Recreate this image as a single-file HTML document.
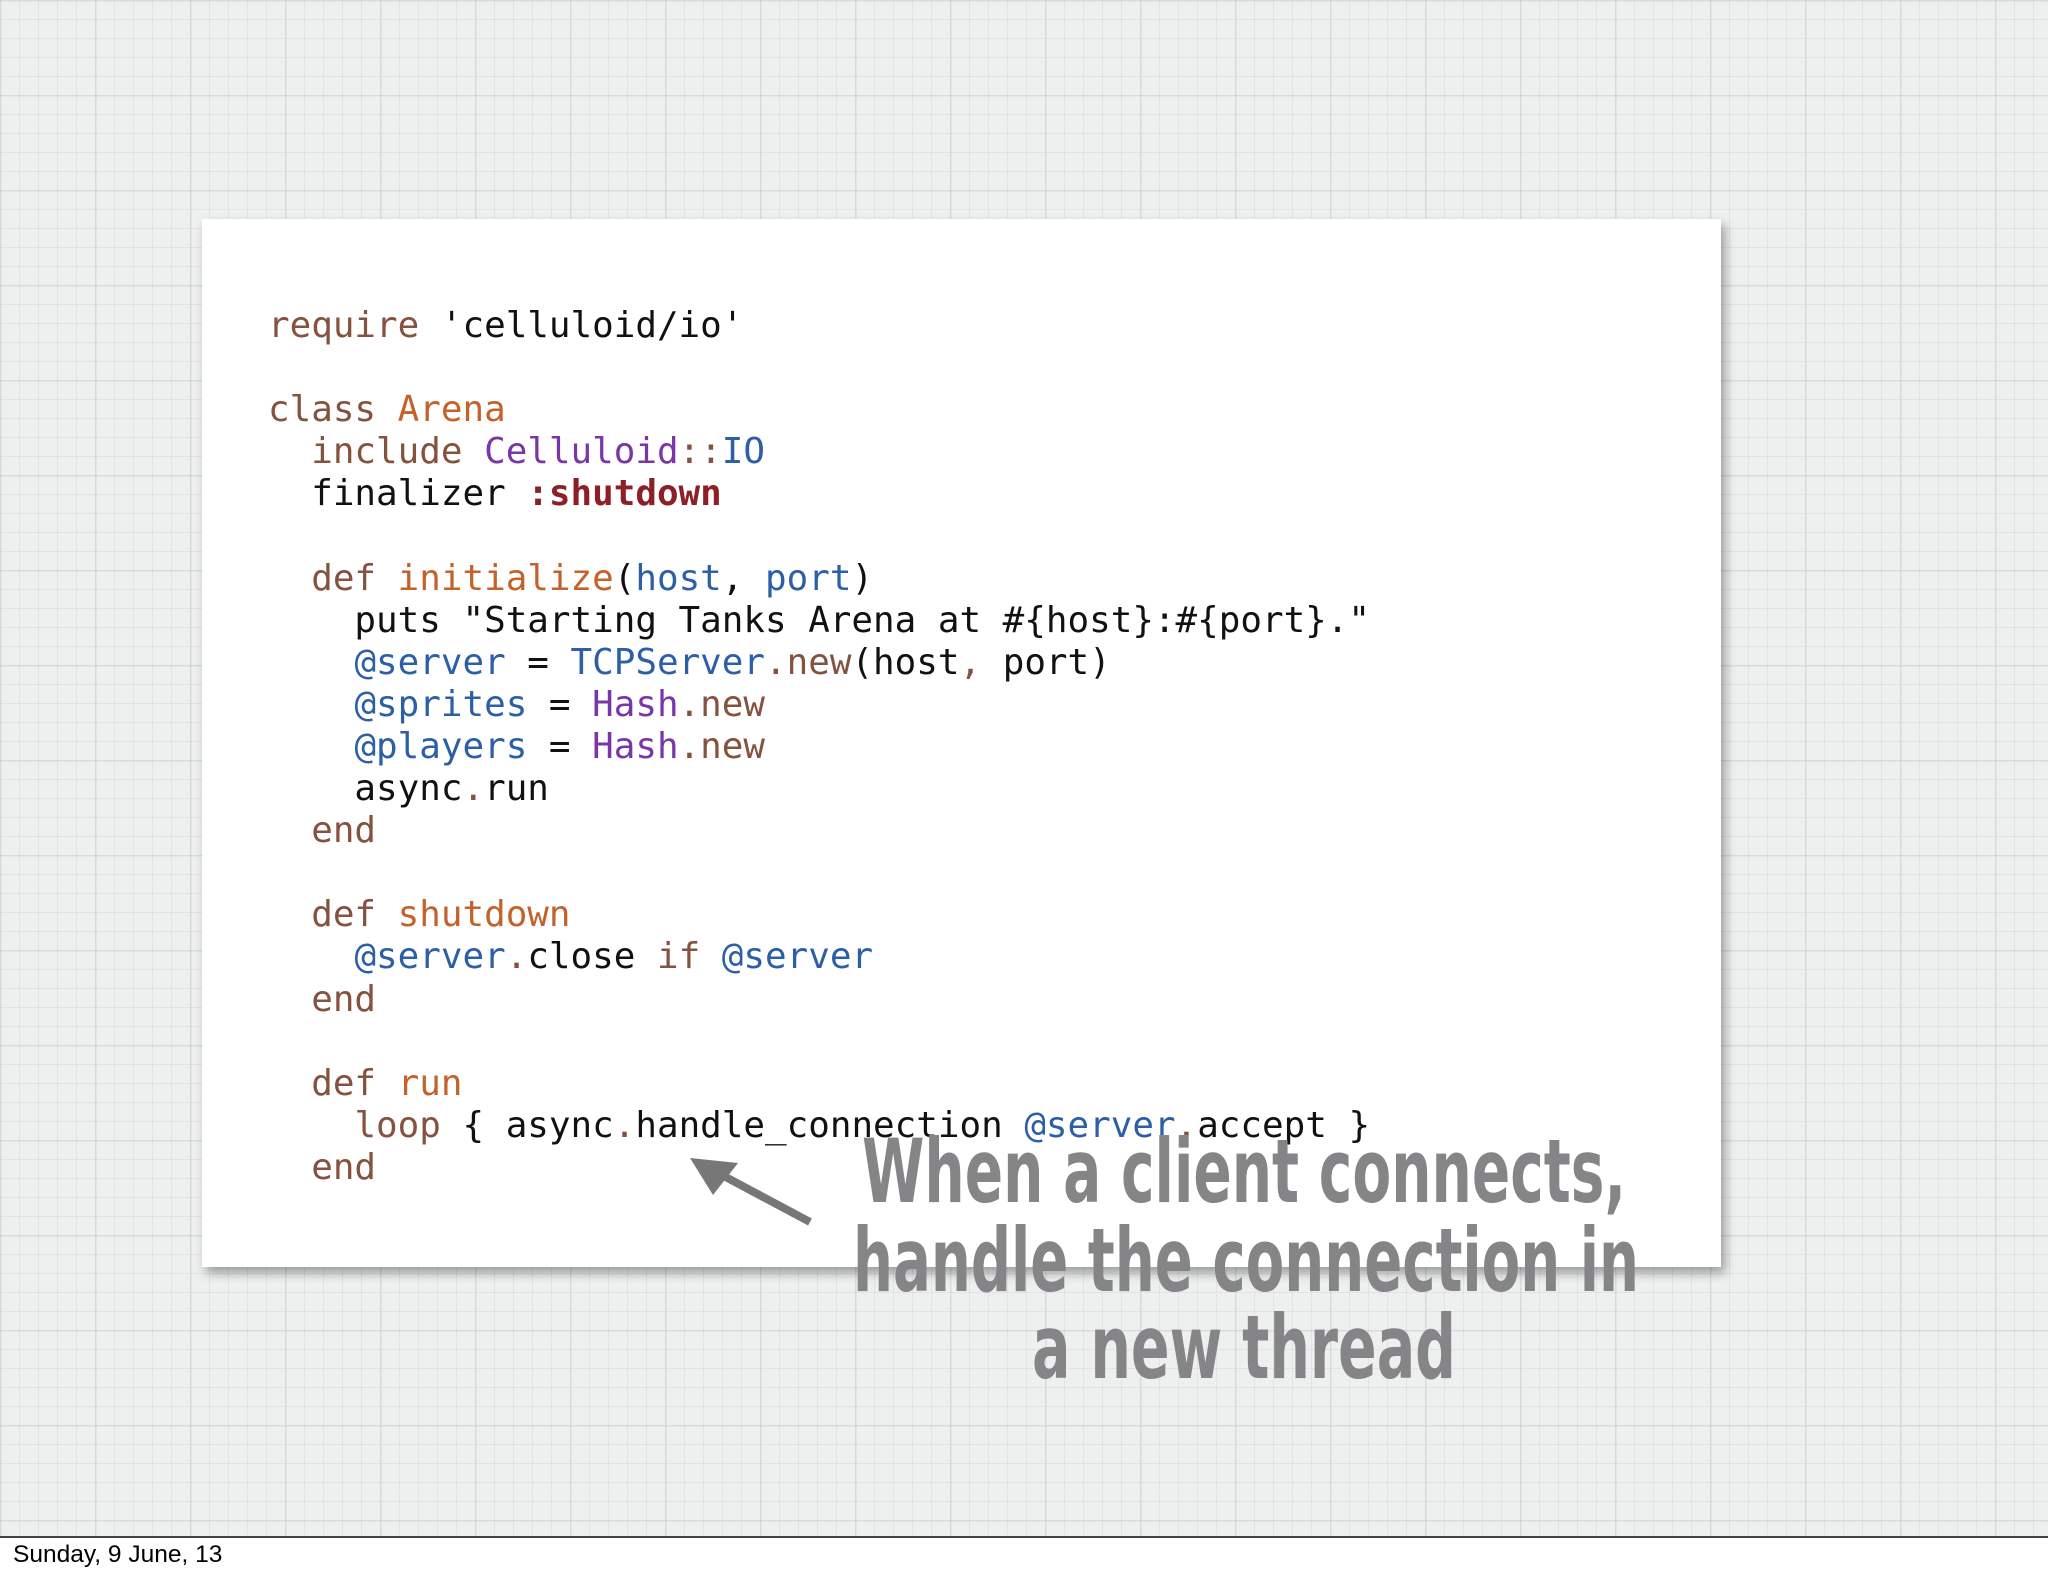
<!DOCTYPE html>
<html><head><meta charset="utf-8"><style>
html,body{margin:0;padding:0}
body{width:2048px;height:1576px;position:relative;overflow:hidden;background:#fff;font-family:"Liberation Sans",sans-serif}
#bg{position:absolute;left:0;top:0;width:2048px;height:1536px;background-color:#eef0f0;
background-image:
linear-gradient(to right,rgba(170,185,185,.22) 1px,transparent 1px),
linear-gradient(to bottom,rgba(170,185,185,.22) 1px,transparent 1px),
linear-gradient(to right,rgba(160,175,175,.15) 2px,transparent 2px),
linear-gradient(to bottom,rgba(160,175,175,.15) 2px,transparent 2px);
background-size:19px 19px,19px 19px,95px 95px,95px 95px;border-bottom:2px solid #444}
#card{position:absolute;left:202px;top:219px;width:1519px;height:1048px;background:#fff;box-shadow:4px 6px 10px rgba(0,0,0,.35)}
pre{position:absolute;left:268px;top:305px;margin:0;font-family:"DejaVu Sans Mono",monospace;font-size:35.9px;line-height:42.1px;color:#111}
.k{color:#85523f}.o{color:#c4622c}.p{color:#7a35a8}.b{color:#2d5fa6}.r{color:#8d1f27;font-weight:bold}
#foot{position:absolute;left:13px;top:1541px;font-size:24.5px;color:#000}
svg{position:absolute;left:0;top:0}
</style></head><body>
<div id="bg"></div>
<div id="card"></div>
<pre><span class="k">require</span> 'celluloid/io'

<span class="k">class</span> <span class="o">Arena</span>
  <span class="k">include</span> <span class="p">Celluloid</span><span class="k">::</span><span class="b">IO</span>
  finalizer <span class="r">:shutdown</span>

  <span class="k">def</span> <span class="o">initialize</span>(<span class="b">host</span>, <span class="b">port</span>)
    puts "Starting Tanks Arena at #{host}:#{port}."
    <span class="b">@server</span> = <span class="b">TCPServer</span><span class="k">.new</span>(host<span class="k">,</span> port)
    <span class="b">@sprites</span> = <span class="p">Hash</span><span class="k">.new</span>
    <span class="b">@players</span> = <span class="p">Hash</span><span class="k">.new</span>
    async<span class="k">.</span>run
  <span class="k">end</span>

  <span class="k">def</span> <span class="o">shutdown</span>
    <span class="b">@server</span><span class="k">.</span>close <span class="k">if</span> <span class="b">@server</span>
  <span class="k">end</span>

  <span class="k">def</span> <span class="o">run</span>
    <span class="k">loop</span> { async<span class="k">.</span>handle_connection <span class="b">@server</span><span class="k">.</span>accept }
  <span class="k">end</span></pre>
<svg width="2048" height="1576" viewBox="0 0 2048 1576">
<g fill="#858587" font-family="DejaVu Sans" font-weight="bold" font-size="88">
<text x="862" y="1202" textLength="764" lengthAdjust="spacingAndGlyphs">When a client connects,</text>
<text x="853" y="1291" textLength="786" lengthAdjust="spacingAndGlyphs">handle the connection in</text>
<text x="1032" y="1378" textLength="424" lengthAdjust="spacingAndGlyphs">a new thread</text>
</g>
<line x1="810" y1="1222" x2="720" y2="1174" stroke="#777" stroke-width="8"/>
<polygon points="690,1158 738,1163 713,1195" fill="#777"/>
</svg>
<div id="foot">Sunday, 9 June, 13</div>
</body></html>
